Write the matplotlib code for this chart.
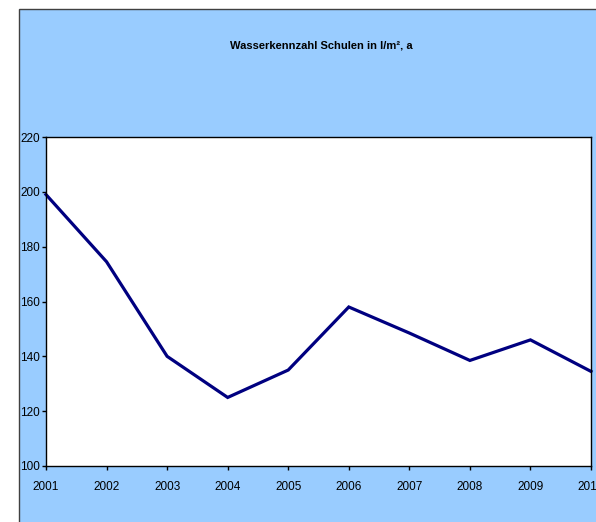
import matplotlib
matplotlib.use("Agg")
import matplotlib.pyplot as plt
from matplotlib.patches import Rectangle

# Werte
jahre = ["2001", "2002", "2003", "2004", "2005", "2006", "2007", "2008", "2009", "2010"]
wasser = [199, 174.5, 140, 125, 135, 158, 148.5, 138.5, 146, 134.5]
y_ticks = [100, 120, 140, 160, 180, 200, 220]

titel = "Wasserkennzahl Schulen in l/m², a"
schrift = ["Liberation Sans Narrow", "Liberation Sans", "DejaVu Sans"]

W, H = 596, 522
fig = plt.figure(figsize=(W / 100, H / 100), dpi=100)
fig.patch.set_facecolor("white")

# blauer Diagrammbereich (rechts und unten abgeschnitten)
fig.patches.append(Rectangle((19 / W, -0.05), 1.2, 1 - 9 / H + 0.05,
                             transform=fig.transFigure, facecolor="#99ccff",
                             edgecolor="#404040", linewidth=1.0, zorder=-1))

fig.text(321 / W, 1 - 45 / H, titel, ha="center", va="center",
         fontsize=8, fontweight="bold", family=schrift)

ax = fig.add_axes([46 / W, 1 - 466 / H, 545 / W, 329 / H])
ax.set_zorder(2)
ax.set_facecolor("white")
x = list(range(len(jahre)))
ax.plot(x, wasser, color="#000080", linewidth=2.3, solid_joinstyle="miter", clip_on=False)

ax.set_xlim(0, len(jahre) - 1)
ax.set_ylim(100, 220)
ax.set_yticks(y_ticks)
ax.set_xticks(x)
ax.set_xticklabels(jahre)
for s in ax.spines.values():
    s.set_color("black")
    s.set_linewidth(1.0)
ax.tick_params(direction="out", length=3, width=1, labelsize=8.5, pad=1.5)
ax.tick_params(axis="x", pad=8)
for lab in ax.get_xticklabels() + ax.get_yticklabels():
    lab.set_family(schrift)

fig.savefig("out.png", dpi=100)
